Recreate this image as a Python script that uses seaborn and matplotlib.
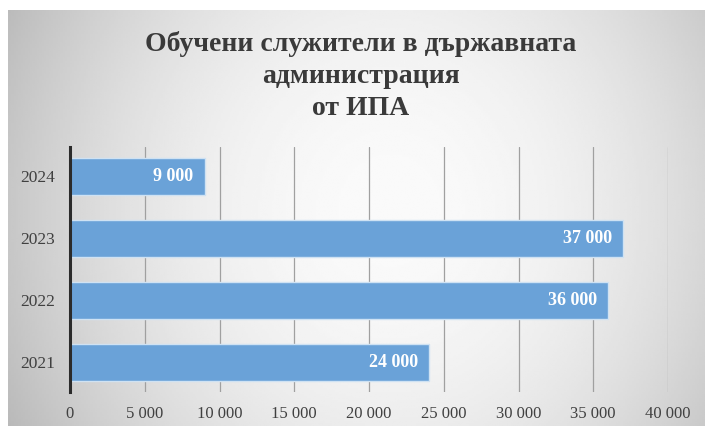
"""Обучени служители в държавната администрация от ИПА — хоризонтални стълбове."""
import numpy as np
import pandas as pd
import matplotlib
matplotlib.use("Agg")
import matplotlib.pyplot as plt
import seaborn as sns

# --- данни ---
GODINI = ["2024", "2023", "2022", "2021"]
OBUCHENI = [9000, 37000, 36000, 24000]
XTICKS = [0, 5000, 10000, 15000, 20000, 25000, 30000, 35000, 40000]
TITLE = "Обучени служители в държавната\nадминистрация\nот ИПА"

BAR = "#6aa2d8"
TXT = "#404040"


def fmt(v):
    return f"{int(v):,}".replace(",", " ")


sns.set_theme(style="white")
plt.rcParams["font.family"] = ["Liberation Serif", "DejaVu Serif"]

W, H = 705, 426
fig = plt.figure(figsize=(W / 100, H / 100), dpi=100)
fig.patch.set_facecolor("white")

# фон: радиален градиент (бял център, сиви краища)
bg = fig.add_axes([8 / W, 0, 1 - 8 / W, 1 - 10 / H])
bg.set_axis_off()
xx, yy = np.meshgrid(np.linspace(8, W, 300), np.linspace(10, H, 200))
dx = (xx - 390) / 400
dy = (yy - 210) / 320
val = 250 - 56 * dx ** 2 - 30 * dy ** 2
val = np.clip(val, 180, 250) / 255
bg.imshow(val, cmap="gray", vmin=0, vmax=1, aspect="auto",
          extent=[0, 1, 0, 1], origin="upper", interpolation="bilinear")

ax = fig.add_axes([70 / W, 1 - 392 / H, (668 - 70) / W, (392 - 147) / H])
ax.patch.set_alpha(0)

df = pd.DataFrame({"година": GODINI, "обучени": OBUCHENI})
sns.barplot(data=df, x="обучени", y="година", order=GODINI, orient="h",
            color=BAR, saturation=1, width=0.6, edgecolor="#cfe2f3",
            linewidth=1.0, ax=ax, zorder=3)

ax.set_xlim(0, 40000)
ax.set_ylim(3.48, -0.47)
ax.set_xticks(XTICKS)
ax.set_xticklabels([fmt(v) for v in XTICKS])
ax.grid(axis="x", color="#a0a0a0", lw=0.9, zorder=0)
ax.set_axisbelow(True)
for s in ["top", "right", "bottom"]:
    ax.spines[s].set_visible(False)
ax.spines["left"].set_color("#2b2b2b")
ax.spines["left"].set_linewidth(2.2)
ax.spines["left"].set_zorder(4)
ax.tick_params(axis="x", length=0, pad=10, labelsize=12, labelcolor=TXT)
ax.tick_params(axis="y", length=0, pad=11, labelsize=12.5, labelcolor=TXT)
ax.set_xlabel("")
ax.set_ylabel("")

for i, v in enumerate(OBUCHENI):
    ax.annotate(fmt(v), xy=(v, i), xytext=(-8, 0), textcoords="offset points",
                ha="right", va="center", color="white", fontsize=13,
                fontweight="bold", zorder=5)

fig.text(361 / W, 1 - 76 / H, TITLE, ha="center", va="center",
         fontsize=20, fontweight="bold", color="#3a3a3a", linespacing=1.38)

fig.savefig("out.png", dpi=100)
